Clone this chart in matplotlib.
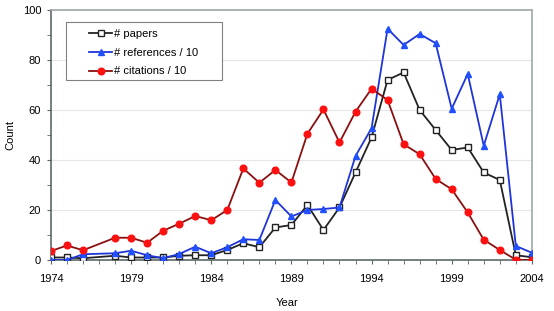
import matplotlib
matplotlib.use("Agg")
import matplotlib.pyplot as plt
from matplotlib.patches import Rectangle
from matplotlib.ticker import MultipleLocator

plt.rcParams['font.family'] = ['Liberation Sans', 'DejaVu Sans']

years = [1974, 1975, 1976, 1978, 1979, 1980, 1981, 1982, 1983, 1984, 1985, 1986,
         1987, 1988, 1989, 1990, 1991, 1992, 1993, 1994, 1995, 1996, 1997, 1998,
         1999, 2000, 2001, 2002, 2003, 2004]
papers = [1, 1, 0.7, 1.7, 1, 1, 1, 1.7, 1.9, 1.9, 4, 6.7,
          5.1, 13, 14, 22, 12, 21, 35, 49, 72, 75, 60, 52,
          44, 45, 35, 32, 1.9, 1.1]
references = [0, 0, 2.3, 2.7, 3.7, 1.9, 0.7, 2.4, 5.3, 2.7, 5.1, 8.3,
              8, 24, 17.4, 20, 20.4, 21, 41.6, 52.7, 92.5, 86, 90.4, 86.7,
              60.5, 74.4, 45.7, 66.3, 5.6, 2.9]
citations = [3.6, 5.8, 3.9, 8.9, 8.9, 6.9, 11.7, 14.5, 17.6, 15.9, 20, 36.6,
             30.9, 36, 31, 50.5, 60.2, 47, 59.3, 68.5, 64, 46.3, 42.3, 32.4,
             28.3, 19, 8.1, 4, 0.1, 0]

fig = plt.figure(figsize=(5.54, 3.11), dpi=100)
ax = fig.add_axes([0.092, 0.164, 0.868, 0.804])

ax.plot(years, papers, color='#222222', lw=1.3, marker='s', ms=4.5,
        mfc='white', mec='#222222', mew=1, label='# papers', zorder=3)
ax.plot(years, references, color='#1F35D8', lw=1.3, marker='^', ms=5,
        mfc='#2050FF', mec='#2050FF', label='# references / 10', zorder=3)
ax.plot(years, citations, color='#8B1010', lw=1.3, marker='o', ms=4.8,
        mfc='#FF1010', mec='#FF1010', label='# citations / 10', zorder=3)

ax.set_xlim(1974, 2004)
ax.set_ylim(0, 100)
ax.set_xticks(range(1974, 2005, 5))
ax.xaxis.set_minor_locator(MultipleLocator(1))
ax.yaxis.set_major_locator(MultipleLocator(20))
ax.yaxis.set_minor_locator(MultipleLocator(10))
ax.tick_params(axis='both', which='both', direction='out', labelsize=8,
               color='#5A6666', length=3)
ax.tick_params(axis='x', pad=7)
ax.tick_params(axis='y', pad=4)
ax.grid(axis='y', which='major', color='#E6E6E6', lw=0.8, zorder=0)

for side in ['top', 'right']:
    ax.spines[side].set_color('#A0A8A8')
    ax.spines[side].set_linewidth(1.2)
for side in ['left', 'bottom']:
    ax.spines[side].set_color('#4F5C5C')
    ax.spines[side].set_linewidth(1.1)

ax.set_xlabel('Year', fontsize=8)
ax.set_ylabel('Count', fontsize=8)
ax.xaxis.set_label_coords(0.49, -0.152)
ax.yaxis.set_label_coords(-0.075, 0.5)

# legend box drawn separately to get the wide side padding
ax.add_patch(Rectangle((0.031, 0.72), 0.324, 0.232, transform=ax.transAxes,
                       facecolor='white', edgecolor='#808080', lw=0.8, zorder=4))
leg = ax.legend(loc='upper left', bbox_to_anchor=(0.079, 0.925), fontsize=8,
                frameon=False, handlelength=2.1, borderpad=0, labelspacing=0.8,
                handletextpad=0.15, borderaxespad=0)
leg.set_zorder(5)

fig.savefig('out.png', dpi=100)
